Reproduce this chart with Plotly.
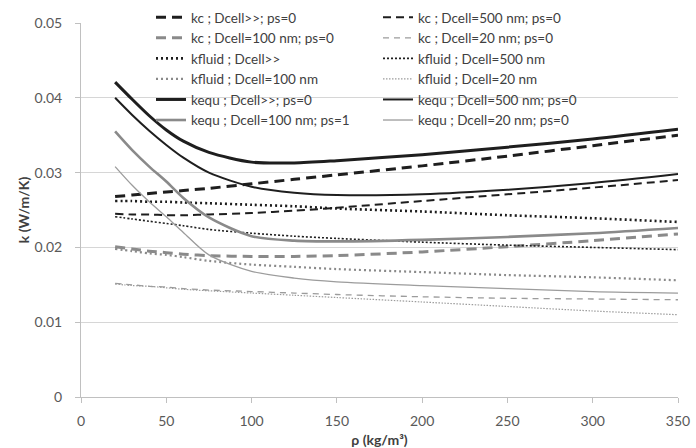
import plotly.graph_objects as go

rho = [20, 30, 40, 50, 60, 75, 100, 125, 150, 200, 250, 300, 350]

kc_inf   = [0.0268, 0.0270, 0.0272, 0.0274, 0.0276, 0.0279, 0.0285, 0.0291, 0.0297, 0.0309, 0.0322, 0.0336, 0.0350]
kc_500   = [0.0245, 0.0244, 0.0244, 0.0243, 0.0243, 0.0244, 0.0246, 0.0249, 0.0253, 0.0262, 0.0271, 0.0280, 0.0290]
kc_100   = [0.0201, 0.0198, 0.0195, 0.0193, 0.0191, 0.0189, 0.0188, 0.0188, 0.0189, 0.0194, 0.0201, 0.0209, 0.0218]
kc_20    = [0.0152, 0.0150, 0.0148, 0.0147, 0.0145, 0.0143, 0.0141, 0.0139, 0.0137, 0.0134, 0.0132, 0.0131, 0.0130]
kfl_inf  = [0.0262, 0.0262, 0.0261, 0.0261, 0.0260, 0.0259, 0.0257, 0.0255, 0.0252, 0.0248, 0.0243, 0.0239, 0.0234]
kfl_500  = [0.0241, 0.0238, 0.0235, 0.0232, 0.0229, 0.0224, 0.0219, 0.0215, 0.0212, 0.0207, 0.0203, 0.0200, 0.0197]
kfl_100  = [0.0198, 0.0195, 0.0192, 0.0190, 0.0187, 0.0182, 0.0177, 0.0174, 0.0171, 0.0167, 0.0163, 0.0160, 0.0156]
kfl_20   = [0.0151, 0.0149, 0.0148, 0.0146, 0.0144, 0.0142, 0.0139, 0.0136, 0.0133, 0.0127, 0.0121, 0.0115, 0.0110]
keq_inf  = [0.0421, 0.0398, 0.0376, 0.0357, 0.0342, 0.0327, 0.0314, 0.0313, 0.0316, 0.0324, 0.0334, 0.0345, 0.0358]
keq_500  = [0.0400, 0.0377, 0.0356, 0.0337, 0.0320, 0.0300, 0.0281, 0.0273, 0.0270, 0.0271, 0.0277, 0.0286, 0.0298]
keq_100  = [0.0355, 0.0330, 0.0308, 0.0288, 0.0266, 0.0240, 0.0215, 0.0209, 0.0208, 0.0210, 0.0214, 0.0219, 0.0226]
keq_20   = [0.0308, 0.0283, 0.0261, 0.0241, 0.0220, 0.0190, 0.0168, 0.0159, 0.0154, 0.0149, 0.0145, 0.0141, 0.0139]

names = [
    "kc ; Dcell>>; ps=0", "kc ; Dcell=500 nm; ps=0",
    "kc ; Dcell=100 nm; ps=0", "kc ; Dcell=20 nm; ps=0",
    "kfluid ; Dcell>>", "kfluid ; Dcell=500 nm",
    "kfluid ; Dcell=100 nm", "kfluid ; Dcell=20 nm",
    "kequ ; Dcell>>; ps=0", "kequ ; Dcell=500 nm; ps=0",
    "kequ ; Dcell=100 nm; ps=1", "kequ ; Dcell=20 nm; ps=0",
]
series = [kc_inf, kc_500, kc_100, kc_20, kfl_inf, kfl_500, kfl_100, kfl_20,
          keq_inf, keq_500, keq_100, keq_20]

BLK = "#1e1e1e"
GRY = "#8a8a8a"
GRY2 = "#9c9c9c"
styles = [
    dict(color=BLK, width=3.0, dash="10px,6px"),
    dict(color=BLK, width=2.0, dash="8px,5px"),
    dict(color=GRY, width=3.0, dash="10px,6px"),
    dict(color=GRY2, width=1.3, dash="6px,5px"),
    dict(color=BLK, width=2.6, dash="2px,3px"),
    dict(color=BLK, width=1.6, dash="2px,2px"),
    dict(color=GRY, width=2.2, dash="2px,3px"),
    dict(color=GRY2, width=1.2, dash="1.5px,1.5px"),
    dict(color=BLK, width=3.0, dash="solid"),
    dict(color=BLK, width=2.0, dash="solid"),
    dict(color=GRY, width=2.6, dash="solid"),
    dict(color=GRY2, width=1.3, dash="solid"),
]

fig = go.Figure()
for i, (nm, ys, st) in enumerate(zip(names, series, styles)):
    fig.add_trace(go.Scatter(
        x=rho, y=ys, mode="lines", name=nm,
        line=dict(shape="spline", smoothing=0.8, **st),
        legend="legend" if i % 2 == 0 else "legend2",
    ))

FONT = "Lato, Open Sans, sans-serif"
legend_common = dict(
    font=dict(family=FONT, size=13.5, color="#404040"),
    bgcolor="rgba(0,0,0,0)", itemwidth=30, tracegroupgap=0,
    yanchor="top", y=0.995, xanchor="left", traceorder="normal",
)

fig.update_layout(
    width=696, height=448,
    margin=dict(l=81, r=18, t=0, b=51),
    paper_bgcolor="white", plot_bgcolor="white",
    font=dict(family=FONT, color="#595959", size=14),
    legend=dict(x=(151 - 81) / 597, **legend_common),
    legend2=dict(x=(378 - 81) / 597, **legend_common),
    xaxis=dict(
        range=[0, 350], dtick=50, tick0=0, showgrid=False, zeroline=False,
        showline=True, linecolor="#c0c0c0", linewidth=1, automargin=False,
        ticks="outside", ticklen=5, tickcolor="#c0c0c0", ticklabelstandoff=6,
        title=dict(text="<b>ρ (kg/m³)</b>", font=dict(size=14, color="#404040"), standoff=7),
    ),
    yaxis=dict(
        range=[0, 0.05], dtick=0.01, tick0=0, showgrid=True, gridcolor="#d6d6d6",
        domain=[0, 1 - 23 / 397],
        zeroline=False, showline=True, linecolor="#c0c0c0", linewidth=1, automargin=False,
        ticks="outside", ticklen=5, tickcolor="#c0c0c0", ticklabelstandoff=10,
        title=dict(text="<b>k (W/m/K)</b>", font=dict(size=14, color="#404040"), standoff=1),
    ),
)

fig.write_html("out.html", config={"displayModeBar": False},
               post_script="document.body.style.margin='0';")
